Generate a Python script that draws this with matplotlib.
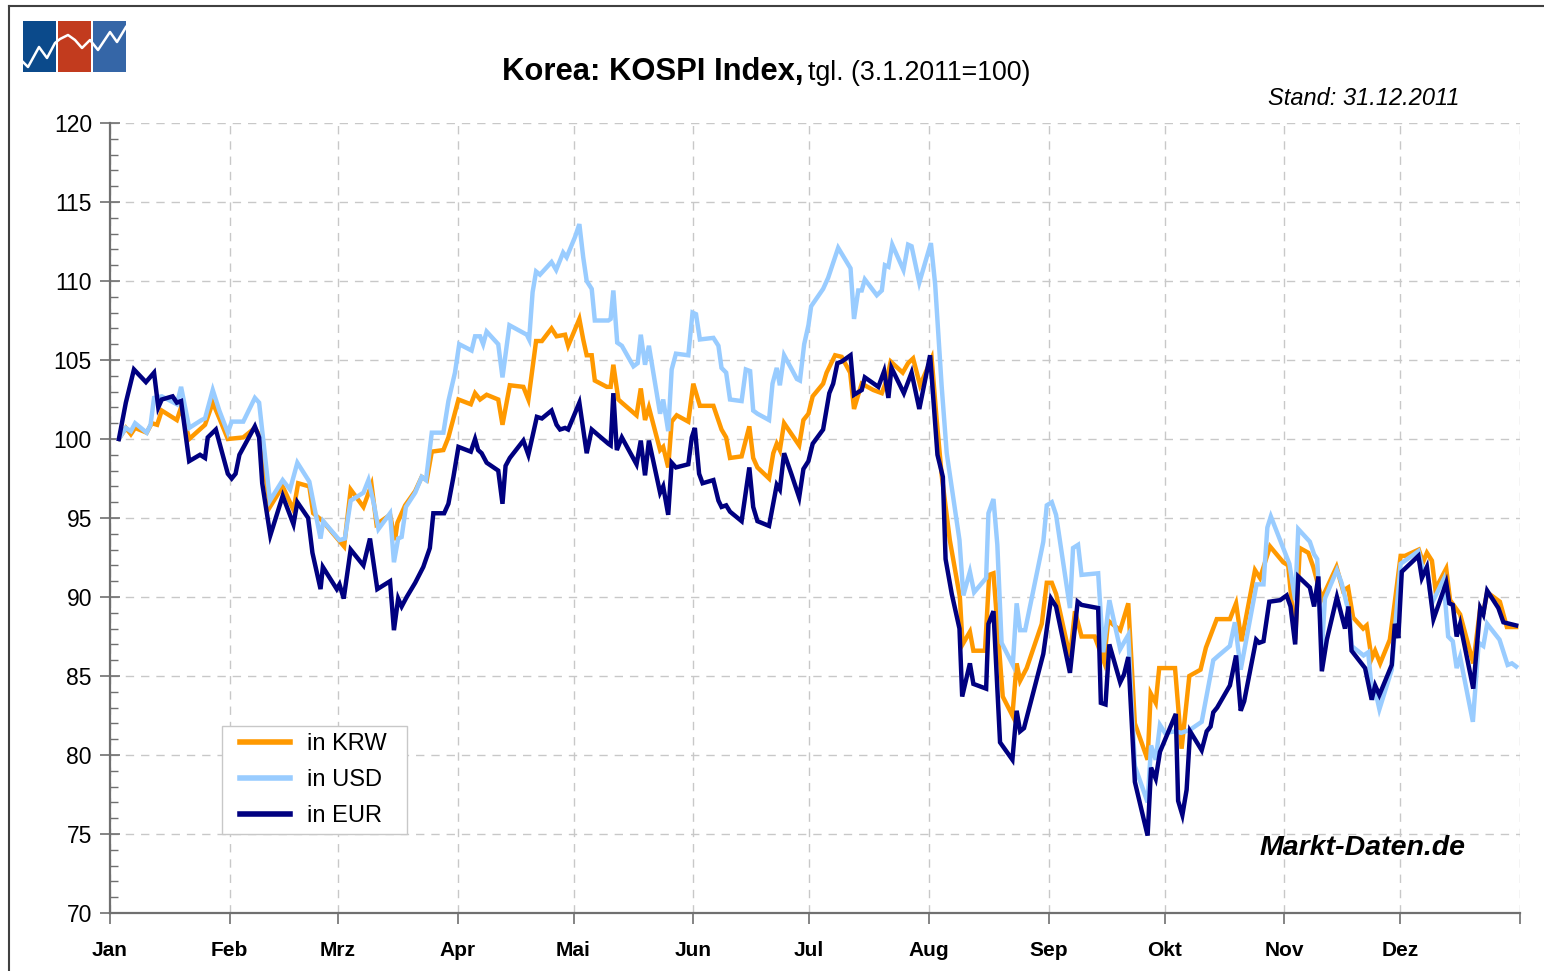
import numpy as np
import matplotlib
matplotlib.use("Agg")
import matplotlib.pyplot as plt
from matplotlib.patches import Rectangle
from matplotlib.lines import Line2D

plt.rc('font', family=['Liberation Sans', 'DejaVu Sans'])

#--------------------------------------------------
# data: day of year 2011 (0 = 1 Jan) and index values (3.1.2011 = 100)
months = ["Jan", "Feb", "Mrz", "Apr", "Mai", "Jun",
          "Jul", "Aug", "Sep", "Okt", "Nov", "Dez"]
month_start = [0, 31, 59, 90, 120, 151, 181, 212, 243, 273, 304, 334, 365]

krw_day = [2.3, 4.1, 5.4, 6.5, 9.5, 10.8, 12.2, 13.4, 17.3, 18.4, 20.5, 24.6, 26.6, 28.5, 30.5,
           34.5, 37.5, 38.8, 41.4, 44.7, 47.5, 48.7, 51.6, 52.6, 55.1, 57.8, 60.6, 62.3, 65.6,
           67.7, 69.0, 72.5, 73.8, 74.4, 76.4, 79.0, 80.7, 82.0, 83.3, 86.3, 87.6, 90.2, 93.4,
           94.5, 95.8, 97.5, 100.5, 101.6, 103.5, 107.0, 108.3, 110.3, 111.8, 114.3, 115.6,
           117.8, 118.6, 121.5, 122.5, 123.4, 124.7, 125.5, 128.6, 129.6, 130.3, 131.6, 132.5,
           136.3, 137.4, 138.5, 139.5, 142.4, 143.2, 144.5, 145.4, 146.7, 149.7, 151.0, 152.7,
           156.2, 158.3, 159.5, 160.5, 163.5, 165.5, 166.5, 167.6, 170.6, 171.7, 172.6, 173.4,
           174.5, 178.4, 179.5, 180.8, 181.9, 184.6, 185.5, 187.7, 189.4, 191.6, 192.6, 193.7,
           194.6, 197.6, 199.8, 201.0, 202.1, 205.2, 206.6, 207.9, 209.7, 212.7, 214.0, 215.3,
           217.4, 220.0, 220.7, 222.6, 223.5, 226.5, 227.6, 228.7, 231.1, 233.6, 234.7, 235.6,
           237.3, 241.2, 242.5, 243.8, 244.9, 248.5, 249.8, 251.5, 254.9, 257.3, 258.4, 261.5,
           263.6, 265.3, 268.6, 269.4, 270.7, 271.6, 275.7, 277.4, 279.4, 282.3, 283.7, 286.5,
           289.9, 291.5, 292.9, 296.4, 297.7, 300.3, 303.7, 305.0, 306.8, 308.0, 310.2, 311.5,
           313.7, 317.5, 319.2, 320.5, 321.8, 324.4, 325.3, 326.6, 327.5, 328.8, 331.3, 332.6,
           334.1, 335.2, 338.8, 339.9, 340.9, 342.2, 343.1, 345.9, 346.9, 349.5, 352.9, 354.7,
           355.5, 356.5, 359.8, 361.6, 364.0]
krw_val = [100.0, 100.7, 100.3, 100.7, 100.4, 101.0, 100.9, 101.8, 101.2, 102.0, 100.0, 100.9,
           102.3, 101.2, 100.0, 100.1, 100.7, 100.2, 95.7, 97.0, 95.5, 97.2, 97.0, 95.3, 94.8,
           94.0, 93.2, 96.8, 95.7, 97.1, 94.6, 95.2, 93.6, 94.7, 95.8, 96.7, 97.6, 97.4, 99.2,
           99.3, 100.1, 102.5, 102.2, 102.9, 102.5, 102.8, 102.5, 100.9, 103.4, 103.3, 102.5,
           106.2, 106.2, 107.0, 106.5, 106.6, 105.9, 107.6, 106.3, 105.3, 105.3, 103.7, 103.3,
           103.3, 104.7, 102.5, 102.3, 101.5, 103.2, 101.2, 102.0, 99.3, 99.5, 98.2, 101.1,
           101.5, 101.1, 103.5, 102.1, 102.1, 100.6, 100.1, 98.8, 98.9, 100.8, 98.8, 98.2, 97.5,
           99.1, 99.7, 99.3, 101.0, 99.6, 101.2, 101.6, 102.7, 103.5, 104.2, 105.3, 105.2, 104.2,
           101.9, 102.8, 103.5, 103.1, 102.9, 103.7, 104.9, 104.2, 104.8, 105.1, 103.4, 105.1,
           101.2, 97.7, 93.6, 90.0, 87.0, 87.8, 86.6, 86.6, 91.4, 91.5, 83.7, 82.5, 85.8, 84.7,
           85.5, 88.3, 90.9, 90.9, 90.2, 86.2, 89.1, 87.5, 87.5, 85.9, 88.5, 87.9, 89.6, 82.0,
           79.7, 83.9, 83.3, 85.5, 85.5, 80.4, 85.0, 85.4, 86.8, 88.6, 88.6, 89.6, 87.2, 91.7,
           91.2, 93.2, 92.2, 92.0, 87.3, 93.1, 92.8, 91.9, 89.9, 91.9, 90.4, 90.6, 88.7, 88.0,
           88.2, 86.1, 86.6, 85.8, 87.3, 89.7, 92.6, 92.6, 93.0, 92.2, 92.8, 92.3, 90.5, 91.8,
           89.8, 88.9, 85.8, 89.3, 89.0, 90.3, 89.7, 88.1, 88.1]

usd_day = [2.3, 4.1, 5.4, 6.5, 9.5, 10.5, 11.4, 13.4, 17.3, 18.4, 20.5, 23.7, 24.6, 26.6, 28.3,
           30.5, 31.5, 34.5, 37.5, 38.6, 41.4, 44.7, 46.6, 48.5, 51.6, 54.5, 55.2, 59.4, 60.8,
           62.3, 65.6, 66.9, 68.3, 69.5, 72.5, 73.5, 74.6, 75.5, 76.6, 79.0, 80.7, 81.8, 83.3,
           86.3, 87.6, 89.3, 90.4, 93.6, 94.5, 95.8, 96.6, 97.5, 100.5, 101.6, 103.4, 107.9,
           108.5, 109.4, 110.3, 111.3, 114.3, 115.5, 117.3, 118.2, 120.4, 121.5, 122.5, 123.4,
           124.7, 125.5, 129.0, 129.6, 130.3, 131.3, 132.5, 135.5, 136.6, 137.4, 138.5, 139.5,
           142.4, 143.2, 144.5, 145.4, 146.5, 149.7, 150.8, 151.7, 152.7, 156.2, 157.5, 158.3,
           159.5, 160.5, 163.5, 164.6, 165.7, 166.5, 167.6, 170.6, 171.5, 172.6, 173.4, 174.5,
           176.5, 177.8, 178.6, 179.7, 180.8, 181.5, 184.6, 185.9, 188.5, 191.7, 192.6, 193.7,
           194.6, 195.4, 198.5, 199.8, 200.6, 201.5, 202.5, 205.4, 206.6, 207.5, 209.5, 212.5,
           213.6, 215.3, 216.6, 219.9, 220.9, 222.6, 223.7, 226.8, 227.4, 228.7, 229.7, 230.8,
           233.7, 234.7, 235.6, 236.9, 241.6, 242.5, 243.8, 244.9, 248.5, 249.3, 250.6, 251.5,
           255.8, 257.1, 258.7, 261.5, 263.6, 265.3, 268.6, 269.5, 270.7, 271.8, 273.1, 275.9,
           277.3, 279.6, 282.6, 285.6, 287.0, 289.9, 291.2, 292.7, 296.8, 298.6, 299.6, 300.5,
           304.2, 305.3, 306.8, 307.6, 310.6, 311.7, 312.5, 313.7, 314.5, 317.6, 318.8, 320.1,
           321.0, 321.4, 324.5, 325.7, 326.9, 327.6, 328.6, 331.8, 332.6, 334.1, 338.7, 339.8,
           340.9, 342.2, 345.2, 346.4, 347.6, 348.6, 349.5, 352.8, 354.3, 355.5, 356.5, 359.7,
           361.8, 362.9, 364.0]
usd_val = [100.0, 100.7, 100.5, 101.0, 100.4, 100.9, 102.6, 102.7, 102.2, 103.3, 100.7, 101.2,
           101.3, 103.1, 101.8, 100.4, 101.1, 101.1, 102.6, 102.3, 96.1, 97.4, 96.8, 98.5, 97.3,
           93.7, 94.8, 93.6, 93.7, 96.1, 96.6, 97.4, 95.9, 94.3, 95.3, 92.2, 93.7, 93.8, 95.7,
           96.6, 97.6, 97.4, 100.4, 100.4, 102.4, 104.2, 106.0, 105.6, 106.5, 106.5, 106.0, 106.8,
           106.0, 103.9, 107.2, 106.6, 106.3, 109.3, 110.6, 110.4, 111.2, 110.7, 111.8, 111.5,
           112.8, 113.6, 111.5, 110.0, 109.5, 107.5, 107.5, 107.6, 109.4, 106.1, 105.9, 104.6,
           104.8, 106.6, 104.7, 105.9, 101.6, 102.5, 100.5, 104.4, 105.4, 105.3, 108.0, 107.9,
           106.3, 106.4, 105.9, 104.5, 104.2, 102.5, 102.4, 104.4, 104.3, 101.8, 101.6, 101.2,
           103.5, 104.5, 103.4, 105.3, 104.4, 103.8, 103.7, 106.0, 107.2, 108.4, 109.5, 110.2,
           112.1, 110.8, 107.6, 109.4, 109.4, 110.1, 109.1, 109.4, 111.0, 110.9, 112.3, 110.7,
           112.3, 112.2, 109.9, 112.4, 109.8, 103.3, 99.1, 93.6, 90.1, 91.6, 90.3, 91.2, 95.3,
           96.2, 93.3, 87.1, 85.7, 89.6, 87.9, 87.9, 93.5, 95.8, 96.0, 95.2, 89.3, 93.1, 93.3,
           91.4, 91.5, 86.5, 89.8, 86.7, 87.6, 79.3, 77.0, 80.6, 79.7, 81.9, 81.4, 81.5, 81.4,
           81.6, 82.1, 86.0, 86.3, 86.9, 88.4, 85.4, 90.8, 90.8, 94.4, 95.1, 92.8, 92.1, 89.8,
           94.3, 93.5, 92.7, 92.4, 86.6, 89.9, 91.7, 90.9, 89.6, 88.7, 86.9, 86.3, 86.5, 83.5,
           84.0, 82.9, 85.4, 87.9, 92.1, 92.9, 91.8, 91.7, 89.6, 91.1, 87.5, 87.2, 85.5, 86.2,
           82.1, 87.1, 86.9, 88.3, 87.3, 85.7, 85.8, 85.6]

eur_day = [2.3, 4.1, 6.2, 9.3, 11.4, 12.5, 13.4, 16.2, 17.3, 18.4, 20.5, 23.3, 24.6, 25.3, 27.4,
           30.5, 31.5, 32.5, 33.5, 37.5, 38.6, 39.4, 41.5, 44.7, 47.5, 48.5, 51.3, 52.4, 54.5,
           55.1, 58.7, 59.4, 60.5, 62.3, 65.6, 67.3, 69.2, 72.5, 73.5, 74.6, 75.5, 76.8, 79.0,
           81.1, 82.8, 83.7, 86.5, 87.6, 88.9, 90.2, 93.4, 94.5, 95.3, 96.2, 97.5, 100.5, 101.6,
           102.4, 103.5, 107.0, 108.3, 110.5, 111.8, 114.3, 115.6, 116.5, 117.8, 118.6, 121.5,
           123.4, 124.7, 129.0, 129.6, 130.3, 131.2, 132.5, 136.3, 137.4, 138.5, 139.5, 142.4,
           143.2, 144.5, 145.4, 146.5, 149.7, 150.6, 151.4, 152.5, 153.4, 156.2, 157.5, 158.3,
           159.5, 160.5, 163.5, 165.5, 166.5, 167.6, 170.6, 172.6, 173.4, 174.5, 176.5, 178.4,
           179.5, 180.8, 181.9, 184.6, 186.2, 187.2, 188.3, 189.4, 191.7, 192.6, 194.6, 195.4,
           198.9, 200.4, 201.5, 202.3, 205.5, 207.5, 209.5, 212.3, 214.2, 215.6, 216.3, 217.9,
           219.9, 220.6, 222.6, 223.5, 226.8, 227.4, 228.7, 230.4, 233.6, 234.7, 235.6, 236.6,
           241.6, 243.6, 244.9, 248.5, 250.5, 251.5, 255.8, 256.5, 257.7, 258.7, 261.5, 262.5,
           263.6, 265.3, 268.6, 269.5, 270.7, 271.8, 275.9, 276.5, 277.6, 278.7, 279.6, 282.6,
           283.9, 284.9, 285.6, 286.6, 289.9, 291.5, 292.7, 293.6, 296.7, 297.5, 298.6, 300.1,
           302.9, 304.6, 305.6, 306.8, 307.6, 310.6, 311.7, 312.8, 313.7, 315.0, 317.6, 319.7,
           320.6, 321.4, 324.9, 326.6, 327.5, 328.6, 331.8, 332.6, 333.5, 334.4, 338.7, 339.6,
           340.9, 342.6, 345.9, 346.7, 347.6, 348.6, 349.5, 352.9, 354.7, 355.5, 356.5, 359.4,
           360.7, 364.0]
eur_val = [100.0, 102.3, 104.4, 103.6, 104.2, 102.0, 102.5, 102.7, 102.3, 102.4, 98.6, 99.0,
           98.8, 100.1, 100.6, 97.8, 97.5, 97.8, 99.0, 100.8, 100.1, 97.2, 93.9, 96.4, 94.6, 96.0,
           95.0, 92.8, 90.5, 91.9, 90.5, 90.8, 89.9, 93.0, 92.0, 93.7, 90.5, 91.0, 87.9, 89.9,
           89.4, 90.0, 90.9, 91.9, 93.1, 95.3, 95.3, 95.9, 97.6, 99.5, 99.2, 100.0, 99.3, 99.1,
           98.5, 98.0, 95.9, 98.3, 98.8, 99.9, 99.0, 101.4, 101.3, 101.8, 100.9, 100.6, 100.7,
           100.6, 102.3, 99.1, 100.6, 99.7, 99.6, 102.9, 99.3, 100.1, 98.4, 99.9, 97.7, 99.9,
           96.6, 97.0, 95.2, 98.5, 98.2, 98.4, 100.1, 100.7, 97.8, 97.2, 97.4, 96.1, 95.7, 95.8,
           95.4, 94.8, 98.2, 95.7, 94.8, 94.5, 97.1, 96.8, 99.1, 97.7, 96.3, 98.1, 98.6, 99.7,
           100.6, 102.9, 103.5, 104.8, 104.9, 105.3, 102.8, 103.1, 103.9, 103.3, 104.3, 102.6,
           104.5, 102.9, 104.2, 101.9, 105.3, 99.0, 97.6, 92.4, 90.2, 88.0, 83.7, 85.8, 84.5,
           84.2, 88.3, 89.1, 80.8, 79.7, 82.8, 81.5, 81.7, 86.4, 89.9, 89.4, 85.2, 89.7, 89.5,
           89.3, 83.3, 83.2, 87.0, 84.6, 85.1, 86.2, 78.3, 74.9, 79.2, 78.5, 80.2, 82.6, 77.1,
           76.2, 77.8, 81.5, 80.3, 81.5, 81.8, 82.7, 83.0, 84.4, 86.3, 82.8, 83.4, 87.3, 87.1,
           87.2, 89.7, 89.8, 90.1, 89.4, 87.0, 91.3, 90.6, 89.4, 91.3, 85.3, 87.3, 90.0, 88.0,
           89.4, 86.6, 85.5, 83.5, 84.4, 83.8, 85.7, 88.3, 87.4, 91.6, 92.6, 91.2, 91.9, 88.6,
           90.9, 89.6, 89.5, 87.5, 88.3, 84.2, 89.3, 88.9, 90.4, 89.3, 88.4, 88.2]

series = [
    ("in KRW", krw_day, krw_val, "#FF9900"),
    ("in USD", usd_day, usd_val, "#99CCFF"),
    ("in EUR", eur_day, eur_val, "#000080"),
]

#--------------------------------------------------
W, H = 1544, 971
fig = plt.figure(figsize=(W/100, H/100), dpi=100)
fig.patch.set_facecolor("white")

ax = fig.add_axes([110/W, 1 - 913/H, 1410/W, 790/H])

for label, xs, ys, col in series:
    ax.plot(xs, ys, color=col, lw=3.2, label=label, solid_joinstyle="miter")

ax.set_xlim(0, 365)
ax.set_ylim(70, 120)

ax.set_yticks(np.arange(70, 121, 5))
ax.set_yticks(np.arange(70, 121, 1), minor=True)
ax.set_xticks(month_start)
ax.set_xticklabels(months + [""], fontweight="bold", fontsize=15)
ax.tick_params(axis="y", which="major", direction="inout", length=14, width=1.2,
               color="#707070", labelsize=16.5, pad=6)
ax.tick_params(axis="y", which="minor", direction="in", length=6, width=1.0, color="#707070")
ax.tick_params(axis="x", which="major", direction="out", length=8, width=1.2,
               color="#707070", pad=12)

ax.grid(True, which="major", color="#c8c8c8", ls=(0, (6, 5)), lw=1.0)
ax.set_axisbelow(True)
for s in ["top", "right"]:
    ax.spines[s].set_visible(False)
for s in ["left", "bottom"]:
    ax.spines[s].set_color("#707070")
    ax.spines[s].set_linewidth(1.6)

# legend without own frame, boxed by a separate rectangle
ax.add_patch(Rectangle((222/W, 1 - 834/H), 185/W, 108/H, transform=fig.transFigure,
                       facecolor="white", edgecolor="#c8c8c8", lw=1.0, zorder=4,
                       clip_on=False))
leg = ax.legend(loc="center left", bbox_to_anchor=(233/W, 1 - 780/H),
                bbox_transform=fig.transFigure, fontsize=17, frameon=False,
                handlelength=2.1, handletextpad=0.75, labelspacing=0.6,
                borderpad=0.3, borderaxespad=0)
leg.set_zorder(6)
for l in leg.get_lines():
    l.set_linewidth(4.0)

#--------------------------------------------------
# title and annotations
fig.text(0.5205, 1 - 80/H, "Korea: KOSPI Index,", ha="right", va="baseline",
         fontsize=22.3, fontweight="bold")
fig.text(0.5235, 1 - 80/H, "tgl. (3.1.2011=100)", ha="left", va="baseline", fontsize=19.3)
fig.text(1460/W, 1 - 105/H, "Stand: 31.12.2011", ha="right", va="baseline",
         fontsize=17, style="italic")
fig.text(1466/W, 1 - 855/H, "Markt-Daten.de", ha="right", va="baseline",
         fontsize=20.5, style="italic", fontweight="bold")

# frame lines (left and top)
fig.add_artist(Line2D([9/W, 9/W], [0, 1 - 6/H], color="#404040", lw=1.5))
fig.add_artist(Line2D([9/W, 1], [1 - 6/H, 1 - 6/H], color="#404040", lw=1.5))

#--------------------------------------------------
# logo
lax = fig.add_axes([23/W, 1 - 72/H, 103/W, 51/H])
lax.set_xlim(23, 126)
lax.set_ylim(72, 21)
lax.axis("off")
for x0, w, c in [(23, 33, "#0B4A8B"), (58, 33, "#C23B1E"), (93, 33, "#3566A7")]:
    lax.add_patch(Rectangle((x0, 21), w, 51, color=c, lw=0))
zx = [23, 28, 39, 47, 55, 60, 68, 75, 82, 90, 98, 110, 117, 126]
zy = [62, 67, 47, 58, 43, 39, 35, 40, 48, 40, 50, 32, 42, 27]
lax.plot(zx, zy, color="white", lw=1.8)

plt.savefig("out.png", dpi=100)
